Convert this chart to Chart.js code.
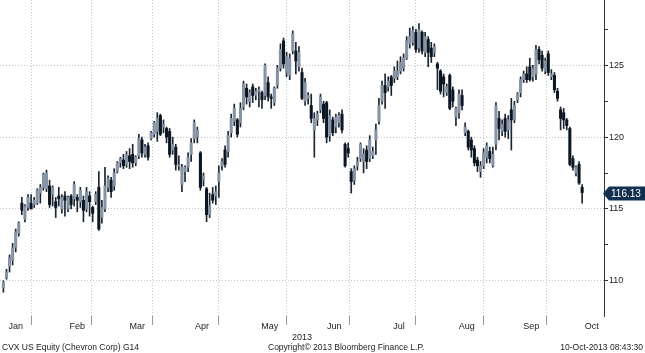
<!DOCTYPE html>
<html><head><meta charset="utf-8">
<script src="https://cdn.jsdelivr.net/npm/chart.js@4.4.0/dist/chart.umd.min.js"></script>
<style>
html,body{margin:0;padding:0;background:#fff;}
#wrap{position:relative;width:645px;height:353px;overflow:hidden;background:#fff;}
canvas{position:absolute;left:0;top:0;}
.ft{position:absolute;top:342px;font:8.5px "Liberation Sans",Arial,sans-serif;color:#222;white-space:nowrap;line-height:10px;}
</style></head><body>
<div id="wrap"><canvas id="c" width="645" height="353"></canvas>
<div class="ft" style="left:2px">CVX US Equity (Chevron Corp) G14</div>
<div class="ft" style="left:268px">Copyright© 2013 Bloomberg Finance L.P.</div>
<div class="ft" style="right:2px">10-Oct-2013 08:43:30</div>
</div>
<script>
// ---- data ----
const monthNames = ['Jan','Feb','Mar','Apr','May','Jun','Jul','Aug','Sep','Oct'];
const monthTradingDays = [21,19,20,22,22,20,22,22,20,23];
const daysBeforeFirstCandle = 6; // Jan trading days before first candle (10-Jan-2013)
const yearLabel = '2013';
const yTickValues = [110,112.5,115,117.5,120,122.5,125,127.5];
const yLabelStep = 5;

const opens = [
109.5,110.2,111.0,111.4,112.3,113.3,115.4,114.3,115.1,115.4,115.3,115.4,116.1,116.5,116.4,
116.6,116.0,115.5,115.9,115.0,115.9,115.0,115.9,115.7,115.8,115.5,115.6,115.0,115.9,115.1,115.5,116.5,114.4,115.0,
116.5,117.0,116.6,117.6,118.2,118.4,118.1,118.7,118.8,118.2,118.7,119.8,118.8,119.4,119.9,120.2,120.4,121.5,120.7,120.6,
120.4,119.1,119.3,118.0,116.7,117.6,117.9,118.8,119.9,120.0,118.9,117.0,116.4,114.6,116.0,115.9,116.9,118.0,119.1,119.0,120.3,121.1,
121.2,121.0,122.1,123.4,122.5,123.5,122.9,123.2,123.1,122.9,123.8,122.8,122.4,123.6,124.8,126.7,124.5,124.3,126.0,126.0,124.9,124.5,
122.5,122.7,122.2,120.5,121.2,121.9,122.3,122.4,120.1,121.2,120.7,121.0,121.6,119.5,119.2,117.6,117.0,118.0,118.5,118.3,
119.1,118.5,118.7,119.8,121.1,122.5,123.6,123.5,124.2,124.1,124.2,124.6,124.8,125.5,126.5,126.6,127.3,126.2,127.3,125.9,126.8,126.2,
125.9,125.1,124.6,124.2,123.1,124.3,123.3,121.4,121.7,122.9,120.3,120.4,119.8,119.2,118.4,117.6,118.0,118.6,119.0,118.0,119.5,121.3,
120.4,121.3,120.5,121.9,121.2,122.6,123.1,124.0,124.4,124.9,124.2,124.4,126.1,125.7,124.6,125.8,124.2,124.3,123.2,121.9,
121.7,121.2,120.6,118.5,117.5,118.1,116.5];
const highs = [
110.0,110.8,111.8,112.6,113.6,114.1,115.8,115.3,116.0,116.0,115.8,116.4,116.7,117.5,117.7,
117.0,116.6,115.8,116.5,116.0,116.2,115.9,116.0,116.9,116.0,116.5,115.9,116.5,116.2,115.2,116.2,117.6,115.6,117.9,
117.3,117.2,117.8,118.3,118.6,118.8,119.0,119.2,119.5,118.7,120.2,120.0,119.5,119.6,120.4,121.1,121.7,121.6,121.2,120.7,
120.6,120.0,119.5,118.7,118.1,118.0,118.9,119.9,121.2,120.7,119.0,117.5,116.5,116.1,116.5,116.6,118.0,118.5,119.4,120.4,121.6,122.3,
121.3,122.4,123.9,123.7,123.3,123.7,123.4,123.5,123.2,125.1,124.2,123.0,123.5,125.0,126.5,126.9,125.9,125.8,127.4,126.6,126.3,124.8,
124.1,123.1,123.0,121.7,121.8,123.0,122.5,122.5,121.9,121.4,121.6,121.7,121.9,119.6,119.6,117.8,118.0,118.6,119.6,119.2,
119.4,120.1,119.3,120.9,122.7,123.9,124.4,124.2,124.3,124.9,125.3,125.6,125.8,127.0,127.6,127.7,127.5,127.9,127.4,127.3,127.0,126.6,
126.5,125.2,124.7,124.4,123.7,124.4,123.5,122.1,123.3,123.3,121.0,120.5,120.0,119.4,118.6,118.3,119.2,119.6,119.3,119.3,122.4,121.8,
121.2,121.6,121.5,122.7,122.5,123.1,124.2,124.6,124.9,125.5,125.0,126.4,126.3,126.0,125.5,126.0,124.7,124.5,123.4,122.1,
122.0,121.3,120.7,118.7,118.0,118.3,116.7];
const lows = [
109.2,110.1,110.6,111.1,112.0,113.1,114.6,114.1,114.9,115.0,115.1,115.3,115.4,116.3,116.2,
115.1,115.2,114.4,115.2,114.7,114.5,114.8,115.0,115.2,114.8,115.1,114.1,114.8,114.5,114.1,115.3,113.5,114.0,114.8,
116.2,115.8,116.3,117.5,117.9,117.8,117.9,117.8,117.9,118.0,118.5,118.6,118.6,118.4,119.8,120.0,119.7,120.1,120.3,119.6,
118.6,118.8,117.7,117.7,116.2,116.9,117.6,118.3,119.6,119.6,116.3,116.6,114.1,114.4,115.4,115.3,115.8,117.7,117.9,118.6,120.0,120.8,
120.0,120.7,121.9,122.3,122.1,122.4,122.6,122.1,122.0,122.6,122.5,122.0,122.2,123.4,124.6,124.8,124.2,124.0,125.8,124.4,124.6,122.6,
122.2,122.3,121.0,118.6,120.8,121.7,121.0,119.6,119.7,120.1,120.3,120.7,120.3,117.9,118.6,116.1,116.7,117.7,118.3,117.5,
117.8,118.3,118.5,118.8,120.9,122.3,122.0,123.2,122.9,123.8,124.0,124.4,124.6,125.4,126.2,126.4,125.9,125.9,125.8,125.6,124.9,125.2,
125.6,123.3,123.0,122.8,122.9,121.9,122.1,120.8,121.3,121.9,120.1,119.1,118.6,118.0,117.6,117.2,117.8,118.2,118.2,117.9,119.1,119.8,
120.1,120.0,119.9,119.1,121.0,122.4,122.8,123.8,123.8,123.9,123.9,124.0,125.1,124.6,124.4,124.3,124.0,123.1,122.5,120.5,
120.6,120.5,118.0,117.7,117.3,116.7,115.4];
const closes = [
109.9,110.6,111.6,112.3,113.4,114.0,114.9,115.2,115.8,115.0,115.6,116.3,116.5,117.4,117.5,
115.3,116.5,115.1,115.7,115.8,115.6,115.8,115.3,116.7,115.6,116.3,114.9,116.2,115.5,114.7,116.0,113.6,115.1,116.6,
117.1,116.2,117.5,118.2,118.5,118.0,118.8,118.3,118.2,118.6,119.9,118.9,119.3,118.6,120.3,121.0,121.3,120.2,120.9,120.0,
118.8,119.5,118.1,118.05,117.9,117.9,118.6,119.6,121.0,120.5,116.5,117.3,114.6,115.2,115.6,116.2,117.5,118.3,118.1,120.1,121.3,122.0,
120.2,122.0,123.7,122.8,123.1,122.9,123.2,123.3,122.6,125.0,122.8,122.7,123.4,124.8,126.1,125.1,125.6,125.5,127.2,125.3,125.9,122.7,
123.8,122.9,121.3,121.3,121.6,122.8,121.3,120.0,121.5,120.3,121.4,121.5,120.5,118.0,118.9,116.9,117.8,118.3,119.5,118.8,
118.3,119.8,119.0,120.5,122.2,123.6,123.1,123.9,123.6,124.6,124.6,125.2,125.5,126.7,127.0,127.4,126.1,127.5,126.0,127.0,125.9,125.6,
126.3,124.8,123.2,123.7,123.5,122.0,122.5,122.0,123.0,122.2,120.7,119.3,119.1,118.2,118.0,118.0,118.9,119.4,118.5,118.8,122.2,120.6,
120.9,120.4,121.2,121.2,122.2,123.0,124.0,124.4,124.0,124.0,124.8,126.1,125.4,124.8,125.3,124.5,124.4,123.3,122.7,121.3,
121.2,120.8,118.1,117.9,117.9,116.8,116.13];

// ---- derived scale helpers ----
const monthStart = [];
let acc = -daysBeforeFirstCandle - 0.5;
monthTradingDays.forEach(d => { monthStart.push(acc); acc += d; });
const xMin = -1.1, xMax = 195.1;
const boundaries = monthStart.slice(1);
const centers = monthStart.map((s, k) => Math.min(s + monthTradingDays[k] / 2, xMax - 4));
const isBoundary = v => boundaries.some(b => Math.abs(b - v) < 1e-6);
const labelFor = v => { const k = centers.findIndex(c => Math.abs(c - v) < 1e-6); return k >= 0 ? monthNames[k] : ''; };

const idx = closes.map((_, i) => i);
const wickData = idx.map(i => ({x: i, y: [lows[i], highs[i]]}));
const bodyData = idx.map(i => ({x: i, y: [Math.min(opens[i], closes[i]), Math.max(opens[i], closes[i])]}));
const UP = '#8593a5', DOWN = '#0b1622', WICK = '#1b2531';
const GRID = '#c4c4c4';

const lastLabel = {
  id: 'lastLabel',
  afterDraw(chart) {
    const v = closes[closes.length - 1];
    const py = Math.round(chart.scales.y.getPixelForValue(v)) + 0.5;
    const x0 = chart.chartArea.right;
    const ctx = chart.ctx;
    ctx.save();
    ctx.fillStyle = '#13304f';
    ctx.beginPath();
    ctx.moveTo(x0 - 1, py);
    ctx.lineTo(x0 + 5, py - 7);
    ctx.lineTo(645, py - 7);
    ctx.lineTo(645, py + 7);
    ctx.lineTo(x0 + 5, py + 7);
    ctx.closePath();
    ctx.fill();
    ctx.fillStyle = '#ffffff';
    ctx.font = '10px "Liberation Sans", Arial, sans-serif';
    ctx.textBaseline = 'middle';
    ctx.fillText(v.toFixed(2), x0 + 7, py + 0.5);
    ctx.restore();
  }
};

new Chart(document.getElementById('c'), {
  type: 'bar',
  data: {
    datasets: [
      { label: 'wick', data: wickData, backgroundColor: WICK, barThickness: 1, order: 2, borderWidth: 0 },
      { label: 'body', data: bodyData, barThickness: 2.4, minBarLength: 1, order: 1, borderWidth: 0,
        backgroundColor: c => closes[c.dataIndex] >= opens[c.dataIndex] ? UP : DOWN }
    ]
  },
  options: {
    responsive: false,
    animation: false,
    devicePixelRatio: 1,
    layout: { padding: { left: 0, right: 0, top: 0, bottom: 10 } },
    plugins: { legend: { display: false }, tooltip: { enabled: false } },
    datasets: { bar: { grouped: false } },
    scales: {
      x: {
        type: 'linear', min: xMin, max: xMax, offset: false, position: 'bottom',
        afterBuildTicks: s => { s.ticks = boundaries.concat(centers).sort((a, b) => a - b).map(v => ({value: v})); },
        afterFit: s => { s.height = 27; s.paddingLeft = 0; s.paddingRight = 0; },
        grid: {
          color: c => (c.tick && isBoundary(c.tick.value)) ? GRID : 'rgba(0,0,0,0)',
          tickColor: c => (c.tick && isBoundary(c.tick.value)) ? '#9a9a9a' : 'rgba(0,0,0,0)',
          tickLength: 9, lineWidth: 1, drawTicks: true
        },
        border: { display: false, dash: [1, 2] },
        ticks: { autoSkip: false, maxRotation: 0, padding: -4, color: '#222',
                 font: { family: '"Liberation Sans", Arial, sans-serif', size: 9 },
                 callback: v => labelFor(v) },
        title: { display: true, text: yearLabel, color: '#222', padding: { top: 0, bottom: 0 },
                 font: { family: '"Liberation Sans", Arial, sans-serif', size: 9 } }
      },
      y: {
        position: 'right', min: 107.54, max: 129.55,
        afterBuildTicks: s => { s.ticks = yTickValues.map(v => ({value: v})); },
        afterFit: s => { s.width = 41; s.paddingTop = 0; s.paddingBottom = 0; },
        grid: {
          color: c => (c.tick && c.tick.value % yLabelStep === 0) ? GRID : 'rgba(0,0,0,0)',
          tickColor: '#333', tickLength: 4, lineWidth: 1, drawTicks: true
        },
        border: { display: true, color: '#333', width: 1, dash: [1, 2] },
        ticks: { padding: 1, color: '#222',
                 font: { family: '"Liberation Sans", Arial, sans-serif', size: 9 },
                 callback: v => (v % yLabelStep === 0 ? String(v) : '') }
      }
    }
  },
  plugins: [lastLabel]
});
</script>
</body></html>
